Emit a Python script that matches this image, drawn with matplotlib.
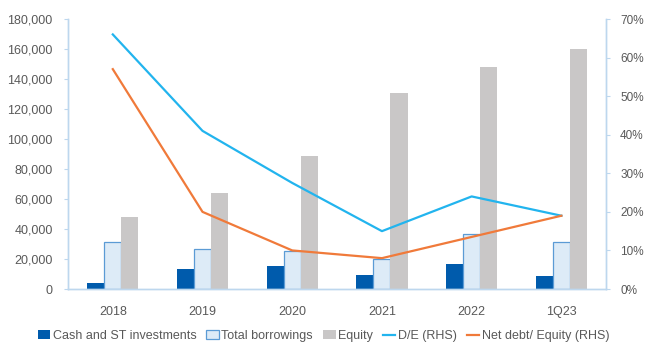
import matplotlib.pyplot as plt
import numpy as np

periods = ["2018", "2019", "2020", "2021", "2022", "1Q23"]
cash = [4000, 13300, 15300, 9300, 16700, 8700]
borrowings = [31300, 26700, 25300, 20000, 36500, 31300]
equity = [48000, 64000, 88700, 130700, 148000, 160000]
de_ratio = [66, 41, 27.5, 15, 24, 19]
net_debt_equity = [57, 20, 10, 8, 13.5, 19]

plt.rcParams["font.family"] = ["Liberation Sans", "DejaVu Sans"]

grey_txt = "#595959"
spine_c = "#BDD7EE"

fig = plt.figure(figsize=(6.47, 3.43), dpi=100)
ax = fig.add_axes([0.105, 0.1574, 0.832, 0.7872])
ax2 = ax.twinx()

x = np.arange(len(periods))
w = 0.19
b1 = ax.bar(x - w, cash, w, color="#005BAC", label="Cash and ST investments", zorder=2)
b2 = ax.bar(x, borrowings, w, color="#DDEBF7", edgecolor="#5B9BD5", linewidth=0.9,
            label="Total borrowings", zorder=2)
b3 = ax.bar(x + w, equity, w, color="#C9C7C7", label="Equity", zorder=2)

l1, = ax2.plot(x, de_ratio, color="#22B4EE", lw=1.6, label="D/E (RHS)")
l2, = ax2.plot(x, net_debt_equity, color="#F07A3A", lw=1.6, label="Net debt/ Equity (RHS)")

ax.set_xlim(-0.5, len(periods) - 0.5)
ax.set_ylim(0, 180000)
ax.set_yticks(np.arange(0, 180001, 20000))
ax.set_yticklabels([f"{v:,}" for v in range(0, 180001, 20000)])
ax2.set_ylim(0, 70)
ax2.set_yticks(np.arange(0, 71, 10))
ax2.set_yticklabels([f"{v}%" for v in range(0, 71, 10)])
ax.set_xticks(x)
ax.set_xticklabels(periods)

for a in (ax, ax2):
    a.spines["top"].set_visible(False)
    for s in ("left", "right", "bottom"):
        a.spines[s].set_color(spine_c)
        a.spines[s].set_linewidth(1.0)
    a.tick_params(colors=grey_txt, labelsize=9, length=3, width=0.8)
    a.tick_params(axis="y", color=spine_c)
ax.tick_params(axis="x", length=0, pad=12)
ax.tick_params(axis="y", pad=8)
ax2.tick_params(axis="y", pad=7, labelsize=8.5)

fig.legend(handles=[b1, b2, b3, l1, l2], loc="lower center", bbox_to_anchor=(0.5, -0.03),
           ncol=5, frameon=False, fontsize=9, handlelength=1.0, handletextpad=0.2,
           columnspacing=0.8, labelcolor=grey_txt)

fig.savefig("out.png", dpi=100)
